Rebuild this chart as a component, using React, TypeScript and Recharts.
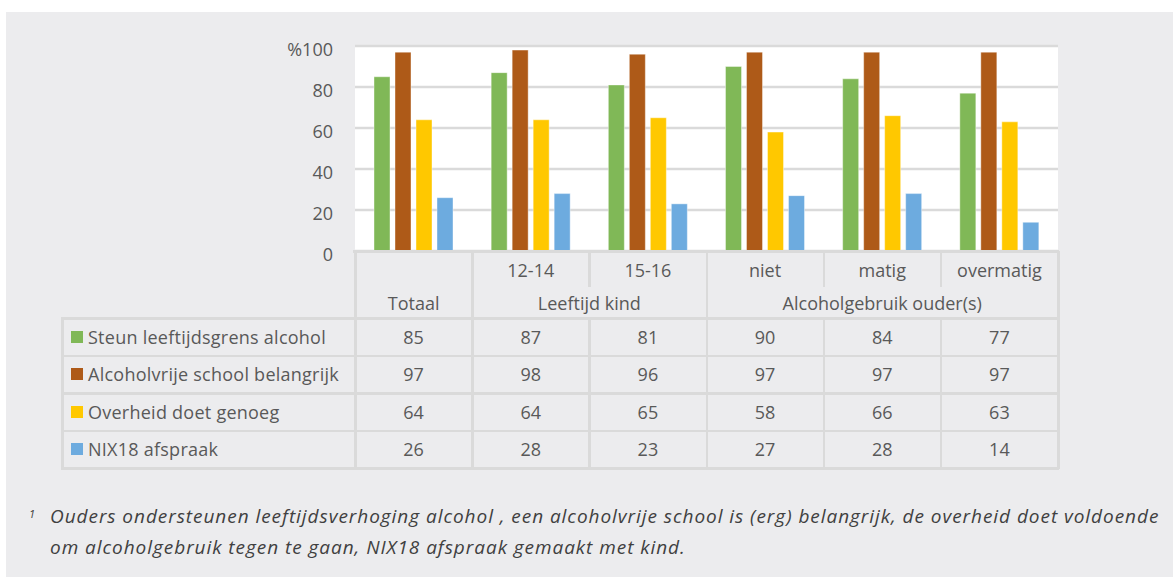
import React from 'react';
import { BarChart, Bar, XAxis, YAxis, CartesianGrid } from 'recharts';

const categories = ['Totaal', '12-14', '15-16', 'niet', 'matig', 'overmatig'];
const subLabels = ['', '12-14', '15-16', 'niet', 'matig', 'overmatig'];
const groupLabels = ['Totaal', 'Leeftijd kind', 'Alcoholgebruik ouder(s)'];
const groupSpans = [1, 2, 3];

const steun = [85, 87, 81, 90, 84, 77];
const alcoholvrij = [97, 98, 96, 97, 97, 97];
const overheid = [64, 64, 65, 58, 66, 63];
const nix18 = [26, 28, 23, 27, 28, 14];

const seriesNames = [
  'Steun leeftijdsgrens alcohol',
  'Alcoholvrije school belangrijk',
  'Overheid doet genoeg',
  'NIX18 afspraak',
];
const seriesKeys = ['steun', 'alcoholvrij', 'overheid', 'nix18'];
const seriesValues = [steun, alcoholvrij, overheid, nix18];
const seriesColors = ['#80b857', '#ae5a18', '#ffc800', '#6dabdf'];

const yTicks = [0, 20, 40, 60, 80, 100];

const footnoteLines = [
  'Ouders ondersteunen leeftijdsverhoging alcohol , een alcoholvrije school is (erg) belangrijk, de overheid doet voldoende',
  'om alcoholgebruik tegen te gaan, NIX18 afspraak gemaakt met kind.',
];

const data = categories.map((c, i) => {
  const row: Record<string, string | number> = { cat: c };
  seriesKeys.forEach((k, j) => {
    row[k] = seriesValues[j][i];
  });
  return row;
});

const W = 1173;
const H = 577;
const PLOT_L = 355;
const PLOT_R = 1058;
const PLOT_T = 46;
const PLOT_B = 251;
const LABEL_L = 62;
const colW = (PLOT_R - PLOT_L) / categories.length;
const colX = (i: number) => PLOT_L + i * colW;

const H1_T = PLOT_B;
const H1_B = 287;
const H2_B = 318;
const ROW_H = 37.5;

const LINE = '#dadada';
const TXT = '#595959';
const FONT = '"Open Sans", sans-serif';

function HLine({ x1, x2, y }: { x1: number; x2: number; y: number }) {
  return <div style={{ position: 'absolute', left: x1, top: y - 1, width: x2 - x1, height: 2.5, background: LINE }} />;
}
function VLine({ x, y1, y2 }: { x: number; y1: number; y2: number }) {
  return <div style={{ position: 'absolute', left: x - 1, top: y1, width: 2.5, height: y2 - y1, background: LINE }} />;
}
function Cell({ x, y, w, h, children, align = 'center' }: { x: number; y: number; w: number; h: number; children: React.ReactNode; align?: string }) {
  return (
    <div
      style={{
        position: 'absolute', left: x, top: y, width: w, height: h,
        display: 'flex', alignItems: 'center', justifyContent: align === 'left' ? 'flex-start' : 'center',
        fontFamily: FONT, fontSize: 18, color: TXT, whiteSpace: 'nowrap',
        letterSpacing: align === 'left' ? 0.25 : 0,
      }}
    >
      {children}
    </div>
  );
}

export default function App() {
  const tableBottom = H2_B + ROW_H * seriesNames.length;
  const lines: React.ReactNode[] = [];
  lines.push(<HLine key="h0" x1={PLOT_L - 2} x2={PLOT_R + 1} y={H1_T} />);
  for (let r = 0; r <= seriesNames.length; r++) {
    lines.push(<HLine key={'hr' + r} x1={LABEL_L - 1} x2={PLOT_R + 1} y={H2_B + r * ROW_H} />);
  }
  lines.push(<VLine key="vl" x={LABEL_L} y1={H2_B} y2={tableBottom + 1} />);
  let acc = 0;
  const groupEdges = new Set<number>([0]);
  groupSpans.forEach((s) => {
    acc += s;
    groupEdges.add(acc);
  });
  for (let i = 0; i <= categories.length; i++) {
    const x = i === categories.length ? PLOT_R : colX(i);
    if (groupEdges.has(i)) {
      lines.push(<VLine key={'v' + i} x={x} y1={H1_T} y2={tableBottom + 1} />);
    } else {
      lines.push(<VLine key={'va' + i} x={x} y1={H1_T} y2={H1_B} />);
      lines.push(<VLine key={'vb' + i} x={x} y1={H2_B} y2={tableBottom + 1} />);
    }
  }

  const groupCells: React.ReactNode[] = [];
  let start = 0;
  groupLabels.forEach((g, gi) => {
    const s = groupSpans[gi];
    groupCells.push(
      <Cell key={'g' + gi} x={colX(start)} y={H1_B} w={colW * s} h={H2_B - H1_B}>
        {g}
      </Cell>
    );
    start += s;
  });

  return (
    <div style={{ position: 'absolute', left: 0, top: 0, width: W, height: H, background: '#fff', overflow: 'hidden' }}>
      <div style={{ position: 'absolute', left: 6, top: 12, width: W - 6, height: H - 12, background: '#ececee' }} />
      <div style={{ position: 'absolute', left: 0, top: 0 }}>
        <BarChart
          width={W}
          height={H}
          data={data}
          margin={{ top: PLOT_T, right: W - PLOT_R, bottom: H - PLOT_B, left: 0 }}
          barSize={16}
          barGap={5}
        >
          <CartesianGrid vertical={false} fill="#ffffff" stroke={LINE} strokeWidth={2.5} />
          <XAxis dataKey="cat" hide />
          <YAxis
            width={PLOT_L}
            domain={[0, 100]}
            ticks={yTicks}
            interval={0}
            axisLine={false}
            tickLine={false}
            tickSize={0}
            tickMargin={22}
            tick={{ fill: TXT, fontSize: 18, fontFamily: FONT, dy: 4 }}
            tickFormatter={(v: number) => (v === 100 ? '%100' : String(v))}
          />
          {seriesKeys.map((k, j) => (
            <Bar
              key={k}
              dataKey={k}
              name={seriesNames[j]}
              fill={seriesColors[j]}
              stroke="#ffffff"
              strokeOpacity={0.4}
              strokeWidth={1}
              isAnimationActive={false}
            />
          ))}
        </BarChart>
      </div>
      {lines}
      {subLabels.map((s, i) => (
        <Cell key={'s' + i} x={colX(i)} y={H1_T} w={colW} h={H1_B - H1_T + 2}>
          {s}
        </Cell>
      ))}
      {groupCells}
      {seriesNames.map((n, j) => (
        <React.Fragment key={'row' + j}>
          <div
            style={{
              position: 'absolute', left: 71, top: H2_B + j * ROW_H + ROW_H / 2 - 6,
              width: 12, height: 12, background: seriesColors[j],
            }}
          />
          <Cell x={88} y={H2_B + j * ROW_H} w={PLOT_L - 90} h={ROW_H} align="left">
            {n}
          </Cell>
          {seriesValues[j].map((v, i) => (
            <Cell key={'c' + i} x={colX(i)} y={H2_B + j * ROW_H} w={colW} h={ROW_H}>
              {v}
            </Cell>
          ))}
        </React.Fragment>
      ))}
      <div
        style={{
          position: 'absolute', left: 29, top: 506, fontFamily: FONT, fontStyle: 'italic', fontSize: 11, color: '#404040',
        }}
      >
        1
      </div>
      {footnoteLines.map((l, i) => (
        <div
          key={'f' + i}
          style={{
            position: 'absolute', left: 50, top: 501 + i * 31, fontFamily: FONT, fontStyle: 'italic',
            fontSize: 19, lineHeight: '31px', letterSpacing: 0.95, color: '#404040', whiteSpace: 'nowrap',
          }}
        >
          {l}
        </div>
      ))}
    </div>
  );
}
